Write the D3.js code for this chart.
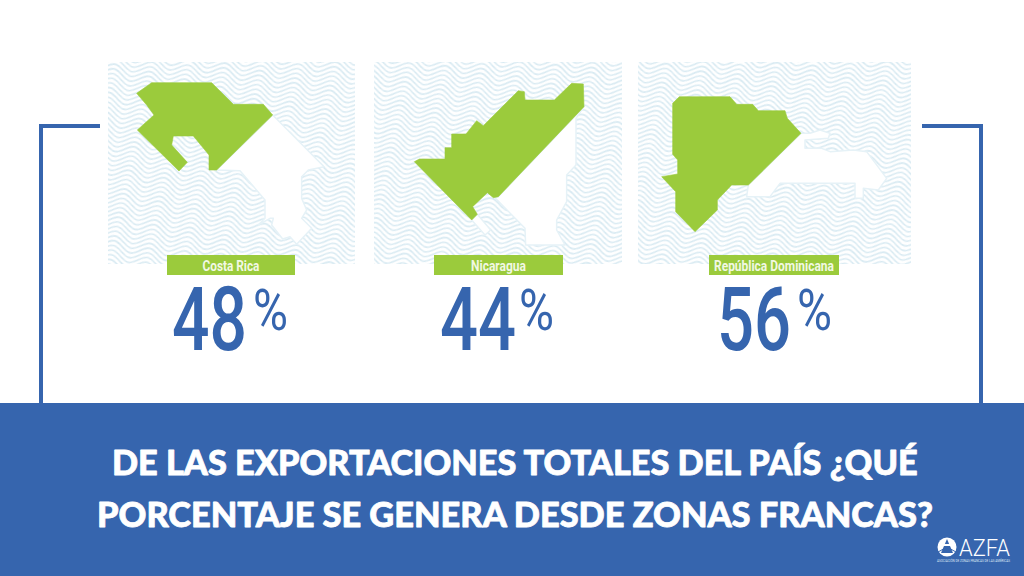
<!DOCTYPE html>
<html><head><meta charset="utf-8">
<script src="https://cdn.jsdelivr.net/npm/d3@7"></script>
<style>html,body{margin:0;background:#fff;overflow:hidden}svg{display:block}</style>
</head><body><svg id="c" width="1024" height="576"></svg>
<script>
const countries = ["Costa Rica","Nicaragua","República Dominicana"];
const shares = [48,44,56];
const titleLines = ["DE LAS EXPORTACIONES TOTALES DEL PAÍS ¿QUÉ","PORCENTAJE SE GENERA DESDE ZONAS FRANCAS?"];
const logoName = "AZFA";
const logoCaption = "ASOCIACIÓN DE ZONAS FRANCAS DE LAS AMÉRICAS";
// Country outlines, in map units
const crGreen = [[110,115],[155,83],[335,83],[400,148],[490,148],[518,180],[350,345],[327,345],[327,300],[280,243],[220,243],[215,270],[262,322],[237,348],[112,225],[162,180],[140,150]];
const crWhite = [[518,180],[672,335],[625,345],[605,365],[605,430],[620,465],[605,490],[635,520],[590,568],[570,545],[548,552],[515,510],[520,490],[510,490],[475,510],[495,490],[495,435],[420,347],[350,345]];
const niGreen = [[133,320],[148,312],[225,312],[225,278],[245,278],[245,237],[288,237],[320,197],[340,212],[445,107],[463,110],[465,135],[553,135],[605,85],[640,87],[642,155],[385,425],[370,428],[352,413],[308,455],[322,478],[305,495]];
const niWhite = [[642,155],[618,190],[618,330],[590,360],[590,440],[560,495],[560,525],[585,570],[467,570],[465,520],[375,428],[385,425]];
const niIsle = [[305,495],[322,478],[362,525],[345,540]];
const drGreen = [[128,145],[148,125],[300,125],[320,148],[368,148],[385,167],[465,167],[472,190],[513,235],[355,390],[305,390],[262,435],[262,465],[195,530],[137,470],[137,410],[95,365],[143,357],[143,315],[128,298]];
const drWhite = [[513,235],[355,390],[350,425],[420,425],[450,385],[675,385],[675,430],[700,430],[700,400],[745,405],[770,370],[710,290],[670,285],[600,290],[575,280],[525,280],[525,255],[595,250],[600,235],[570,225],[540,235]];
const shapes = [
  {green:crGreen,white:[crWhite]},
  {green:niGreen,white:[niWhite,niIsle]},
  {green:drGreen,white:[drWhite]}
];
const green="#9bcb3c", blue="#3665ae", wave="#d8eaf2";
const panels=[{x0:108,x1:355,ox:100,lx:167,lw:128,tw:57,nx:172,nw:75,px:253,pw:35},
              {x0:374,x1:622,ox:370,lx:434,lw:129,tw:55,nx:440,nw:76,px:519,pw:35},
              {x0:638,x1:911,ox:630,lx:709,lw:130,tw:120,nx:717,nw:74,px:797,pw:35}];
const svg=d3.select("#c");
const defs=svg.append("defs");
const W=36,H=4.8,rows=5;
const wp=defs.append("pattern").attr("id","wave").attr("patternUnits","userSpaceOnUse").attr("width",W).attr("height",H*rows)
  .attr("patternTransform","rotate(12)");
const wl=d3.line().curve(d3.curveBasis);
d3.range(-4,rows+4).forEach(i=>{
  const y=i*H;
  const pts=d3.range(-4,9).map(k=>[k*W/2,y+(k%2?-13:13)]);
  wp.append("path").attr("d",wl(pts)).attr("fill","none").attr("stroke",wave).attr("stroke-width",1.6);
});
// Squeeze a text to a given width and keep its real box
function fit(sel,x,y,w,sy){
  const n=sel.attr("x",0).attr("y",0).node();
  sel.attr("transform",`translate(${x},${y}) scale(${w/n.getComputedTextLength()},${sy||1})`);
  return sel;
}
const bracket=d3.line();
[[[100,126],[41,126],[41,404]],[[922,126],[981,126],[981,404]]].forEach(p=>
  svg.append("path").attr("d",bracket(p)).attr("fill","none").attr("stroke",blue).attr("stroke-width",4));
panels.forEach((p,i)=>{
  const g=svg.append("g");
  g.append("rect").attr("x",p.x0).attr("y",62).attr("width",p.x1-p.x0).attr("height",202).attr("fill","url(#wave)");
  const sx=d3.scaleLinear().domain([0,3]).range([p.ox,p.ox+1]);
  const sy=d3.scaleLinear().domain([0,3]).range([55,56]);
  const line=d3.line().x(d=>sx(d[0])).y(d=>sy(d[1])).curve(d3.curveLinearClosed);
  g.selectAll("path.w").data(shapes[i].white).join("path").attr("class","w").attr("d",line)
    .attr("fill","#fff").attr("stroke","#e6f2f7").attr("stroke-width",1.5).attr("stroke-linejoin","round");
  g.append("path").attr("d",line(shapes[i].green)).attr("fill",green).attr("stroke",green).attr("stroke-width",.6).attr("stroke-linejoin","round");
  g.append("rect").attr("x",p.lx).attr("y",255).attr("width",p.lw).attr("height",20).attr("fill",green);
  fit(g.append("text").text(countries[i]).attr("font-family","Roboto").attr("font-weight",700).attr("font-size",15).attr("fill","#f2f8e4"),
    p.lx+(p.lw-p.tw)/2,271,p.tw);
  fit(g.append("text").text(shares[i]).attr("font-family","Roboto").attr("font-weight",500).attr("font-size",89).attr("fill",blue),p.nx,350,p.nw);
  fit(g.append("text").text("%").attr("font-family","Roboto").attr("font-weight",400).attr("font-size",58).attr("fill",blue),p.px,330,p.pw);
});
svg.append("rect").attr("x",0).attr("y",403).attr("width",1024).attr("height",173).attr("fill",blue);
const tl=[{x:112,w:806,y:475},{x:97,w:836,y:527}];
titleLines.forEach((t,i)=>fit(svg.append("text").text(t)
  .attr("font-family","Lato").attr("font-weight",900).attr("font-size",35).attr("fill","#fff")
  .attr("stroke","#fff").attr("stroke-width",.8).attr("stroke-linejoin","round"),tl[i].x,tl[i].y,tl[i].w));
// logo
const logo=svg.append("g");
logo.append("circle").attr("cx",947).attr("cy",547).attr("r",9.5).attr("fill","#fff");
logo.append("path").attr("d",d3.line()([[947,539],[953,553],[941,553]])).attr("fill",blue);
logo.append("path").attr("d",d3.line()([[938,545],[956,545]])).attr("stroke","#fff").attr("stroke-width",2);
logo.append("path").attr("d",d3.line()([[938,552],[947,547],[956,552]])).attr("fill","none").attr("stroke",blue).attr("stroke-width",1);
fit(logo.append("text").text(logoName).attr("font-family","Roboto").attr("font-weight",300).attr("font-size",23).attr("fill","#fff"),959,556,51);
fit(logo.append("text").text(logoCaption).attr("font-family","Roboto").attr("font-size",3.2).attr("fill","#dfe8f5"),937,562,73);
</script></body></html>
